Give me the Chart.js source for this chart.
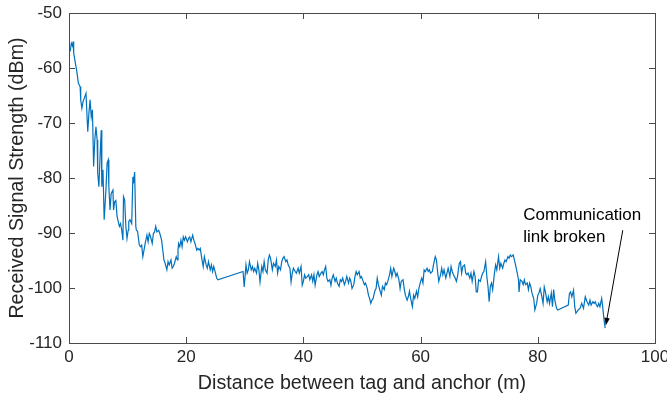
<!DOCTYPE html>
<html>
<head>
<meta charset="utf-8">
<script src="https://cdn.jsdelivr.net/npm/chart.js@4/dist/chart.umd.min.js"></script>
<style>
  html, body { margin: 0; padding: 0; background: #ffffff; }
  canvas { display: block; }
</style>
</head>
<body>
<canvas id="grafico" width="667" height="399"></canvas>
<script>
// distance (m) and received signal strength (dBm)
const distanze = [
  0.2, 0.4, 0.6, 0.7, 0.8, 0.9, 1.1, 1.3, 1.6, 1.9, 2.0, 2.2, 2.4, 2.7, 2.9, 3.0, 3.2, 3.4, 3.6, 3.8,
  4.0, 4.2, 4.4, 4.6, 4.8, 4.9, 5.1, 5.3, 5.5, 5.6, 5.8, 6.0, 6.3, 6.5, 6.7, 6.8, 7.0, 7.2, 7.5, 7.6,
  7.8, 8.0, 8.2, 8.4, 8.6, 8.8, 9.0, 9.2, 9.3, 9.5, 9.7, 9.9, 10.1, 10.2, 10.4, 10.7, 10.9, 11.0, 11.2, 11.4,
  11.5, 11.7, 12.0, 12.2, 12.4,
  12.6, 12.8, 13.0, 13.3, 13.5, 13.7, 13.9, 14.2, 14.4, 14.6, 14.8, 15.0, 15.3, 15.5, 15.8, 16.0, 16.2, 16.4, 16.7, 16.9,
  17.1, 17.4, 17.6, 17.8, 18.0, 18.3, 18.5, 18.6, 18.7, 18.9, 19.1, 19.3, 19.5, 19.7, 19.9, 20.2, 20.4, 20.6, 20.8, 21.1,
  21.3, 21.5, 21.8, 22.0, 22.2, 22.4, 22.7, 22.9, 23.1, 23.4, 23.6, 23.8, 24.1, 24.3, 24.5, 24.7, 25.0, 25.2, 25.4,
  29.7, 29.9, 30.2, 30.4, 30.6, 30.8, 31.1, 31.3, 31.5, 31.7, 32.0, 32.2, 32.4, 32.6, 32.9, 33.1, 33.3, 33.5, 33.8, 34.0,
  34.2, 34.4, 34.7, 34.9, 35.2, 35.4, 35.6, 35.8, 36.1, 36.3, 36.5, 36.7, 37.0, 37.2, 37.4, 37.7, 37.9, 38.1, 38.3,
  38.6, 38.8, 39.1, 39.3, 39.6, 39.8, 40.0, 40.2, 40.4, 40.7, 40.9, 41.1, 41.4, 41.6, 41.8, 42.0, 42.3, 42.5, 42.7, 43.0,
  43.2, 43.4, 43.6, 43.8, 44.0, 44.2, 44.5, 44.7, 44.9, 45.1, 45.4, 45.6, 45.8, 46.1, 46.3, 46.5, 46.7, 47.0, 47.2, 47.4,
  47.7, 47.9, 48.1, 48.3, 48.6, 48.8, 49.0, 49.2, 49.5, 49.7, 49.9, 50.2, 50.4, 50.6, 50.9, 51.1, 51.3, 51.5, 51.7, 51.9,
  52.2, 52.4, 52.6, 52.8, 53.1, 53.3, 53.5, 53.8, 54.0, 54.2, 54.4, 54.7, 54.9, 55.1, 55.4, 55.6, 55.8, 56.0, 56.3, 56.5,
  56.7, 57.0, 57.2, 57.4, 57.7, 57.9, 58.1, 58.3, 58.6, 58.8, 59.0, 59.3, 59.5, 59.7, 60.0, 60.2, 60.4, 60.6, 60.8, 61.1,
  61.3, 61.5, 61.7, 62.0, 62.2, 62.5, 62.7, 62.9, 63.1, 63.4, 63.6, 63.8, 64.0, 64.3, 64.5, 64.7, 65.0, 65.2, 65.4, 65.6,
  65.9, 66.1, 66.3, 66.6, 66.8, 67.0, 67.2, 67.5, 67.7, 67.9, 68.1, 68.4, 68.6, 68.8, 69.1, 69.3, 69.5, 69.7, 69.9, 70.2,
  70.4, 70.6, 70.8, 71.1, 71.3, 71.5, 71.7, 71.9, 72.1, 72.3, 72.6, 72.8, 73.0, 73.3, 73.5, 73.7, 74.0, 74.2, 74.4, 74.6,
  74.9, 75.1, 75.3, 75.5, 75.8, 76.0, 76.2, 76.5, 76.7, 76.8, 77.0, 77.3, 77.5, 77.7, 77.9, 78.2, 78.4, 78.6, 78.8, 79.0,
  79.3,
  79.5, 79.8, 80.0, 80.2, 80.4, 80.7, 80.9, 81.1, 81.3, 81.6, 81.8, 82.0, 82.3, 82.5, 82.7, 82.9, 83.2, 83.4,
  85.2, 85.4, 85.6, 85.8, 86.1, 86.3, 86.5, 86.9, 87.2, 87.5, 87.8, 88.1, 88.4, 88.7, 88.9, 89.1, 89.4, 89.6, 89.8, 90.0,
  90.2, 90.4, 90.6, 90.9, 91.1, 91.3, 91.5
];

const rssi = [
  -57.0, -55.5, -56.0, -55.2, -57.3, -57.9, -59.2, -60.4, -62.8, -63.4, -65.8, -67.3, -66.1, -65.2, -64.6, -67.0, -71.6, -68.2, -65.8, -68.9,
  -67.6, -77.9, -73.1, -70.7, -73.1, -79.1, -81.6, -76.1, -71.3, -81.6, -78.5, -87.6, -82.2, -77.3, -76.7, -81.6, -85.8, -82.8, -82.2, -85.8,
  -84.3, -84.1, -87.0, -87.9, -88.8, -88.3, -89.5, -91.3, -83.4, -84.0, -88.8, -91.0, -89.5, -87.9, -87.6, -88.3, -79.8, -81.0, -78.9, -88.8,
  -89.5, -89.7, -92.2, -92.5, -92.2,
  -94.3, -93.1, -91.9, -90.4, -91.6, -90.1, -90.6, -91.9, -90.1, -89.8, -88.8, -89.8, -89.5, -90.1, -91.3, -93.1, -94.9, -95.5, -96.7, -95.2,
  -95.8, -94.9, -96.4, -96.1, -95.5, -94.3, -94.9, -93.1, -91.9, -92.5, -91.3, -92.5, -90.7, -91.3, -90.7, -91.6, -91.0, -90.7, -91.6, -90.4,
  -91.3, -91.9, -93.1, -92.8, -93.1, -92.8, -94.9, -96.1, -94.3, -95.8, -96.4, -95.2, -96.7, -95.8, -97.0, -96.1, -97.3, -98.2, -98.5,
  -97.0, -99.8, -95.8, -97.3, -96.7, -95.2, -96.7, -96.1, -97.0, -96.4, -97.3, -95.5, -96.7, -98.9, -96.1, -97.0, -95.2, -96.7, -97.3, -94.9,
  -94.0, -94.6, -96.7, -95.5, -96.1, -94.9, -97.3, -96.1, -96.7, -95.2, -94.6, -94.3, -95.2, -94.9, -95.8, -96.4, -98.9, -97.3, -96.4,
  -97.0, -97.3, -96.4, -97.3, -96.1, -99.5, -98.8, -97.6, -98.2, -97.9, -97.6, -98.5, -97.6, -98.8, -97.6, -99.5, -97.6, -97.0, -97.9, -97.3,
  -97.0, -97.6, -96.7, -96.1, -98.2, -98.8, -98.5, -99.5, -98.2, -97.6, -98.8, -98.2, -99.1, -99.7, -98.5, -98.8, -98.2, -99.4, -98.8, -97.9,
  -99.1, -98.2, -98.8, -100.1, -99.4, -97.9, -97.0, -97.6, -97.0, -98.2, -97.9, -98.8, -99.4, -99.1, -100.1, -101.3, -101.9, -102.8, -102.2, -101.9,
  -100.5, -100.1, -98.2, -99.4, -100.6, -101.3, -99.7, -100.3, -99.1, -99.4, -98.8, -97.6, -96.4, -97.9, -96.4, -97.0, -97.9, -97.3, -98.5, -100.1,
  -98.8, -98.5, -100.1, -101.3, -102.2, -101.6, -100.6, -101.9, -103.4, -101.3, -101.9, -100.6, -101.6, -100.1, -98.8, -98.2, -99.1, -96.7, -97.0, -96.4,
  -97.0, -96.7, -97.3, -97.0, -95.8, -94.3, -94.9, -97.0, -98.8, -97.6, -96.4, -97.6, -96.7, -98.2, -97.3, -96.4, -97.9, -96.1, -97.0, -97.6,
  -98.2, -98.8, -97.9, -95.5, -95.2, -97.3, -96.1, -95.8, -97.3, -97.6, -97.3, -98.2, -97.3, -98.8, -97.0, -97.9, -100.7, -100.7, -98.5, -98.8,
  -97.9, -97.3, -97.0, -95.2, -97.9, -99.7, -102.5, -99.7, -99.1, -100.3, -97.3, -95.8, -96.7, -94.3, -96.4, -95.5, -96.4, -95.5, -94.9, -95.2,
  -94.3, -94.6, -94.0, -94.3, -94.0, -94.9, -95.8, -97.3, -98.5, -100.7, -98.5, -98.8, -99.4, -98.5, -99.4, -99.1, -100.3, -99.1, -99.7, -100.9,
  -101.9,
  -104.0, -102.8, -101.3, -100.9, -100.1, -101.6, -102.8, -99.8, -100.7, -102.5, -101.6, -102.8, -100.9, -103.4, -100.3, -102.2, -103.7, -104.0,
  -103.1, -101.0, -100.7, -101.6, -100.4, -103.4, -104.6, -104.0, -103.7, -102.8, -103.7, -101.6, -102.5, -103.1, -102.2, -103.1, -102.5, -102.8, -102.5, -103.1,
  -103.4, -102.8, -103.4, -101.9, -103.7, -105.8, -107.3
];

const tickX = [0, 20, 40, 60, 80, 100];
const tickY = [-110, -100, -90, -80, -70, -60, -50];

// annotation, in data units
const notaTesto = ['Communication', 'link broken'];
const notaPos = { x: 77.5, y: -87.6, passo: -3.95 };
const frecciaDa = { x: 94.5, y: -89.5 };
const frecciaA = { x: 91.6, y: -106.8 };

const coloreAssi = '#262626';
const coloreBordo = '#4a4a4a';
const font = '"Liberation Sans", Arial, sans-serif';

const puntiDati = distanze.map((d, i) => ({ x: d, y: rssi[i] }));

// box round the plot and inward ticks on all four sides (MATLAB look)
const boxTicks = {
  id: 'boxTicks',
  afterDatasetsDraw(chart) {
    const ctx = chart.ctx;
    const area = chart.chartArea;
    const sx = chart.scales.x;
    const sy = chart.scales.y;
    const lung = 6;
    ctx.save();
    ctx.strokeStyle = coloreBordo;
    ctx.lineWidth = 1;
    ctx.beginPath();
    tickX.forEach(v => {
      const px = Math.round(sx.getPixelForValue(v)) + 0.5;
      ctx.moveTo(px, area.bottom);
      ctx.lineTo(px, area.bottom - lung);
      ctx.moveTo(px, area.top);
      ctx.lineTo(px, area.top + lung);
    });
    tickY.forEach(v => {
      const py = Math.round(sy.getPixelForValue(v)) + 0.5;
      ctx.moveTo(area.left, py);
      ctx.lineTo(area.left + lung, py);
      ctx.moveTo(area.right, py);
      ctx.lineTo(area.right - lung, py);
    });
    ctx.stroke();
    ctx.strokeRect(Math.round(area.left) + 0.5, Math.round(area.top) + 0.5,
      Math.round(area.right - area.left), Math.round(area.bottom - area.top));
    ctx.restore();
  }
};

const nota = {
  id: 'nota',
  afterDraw(chart) {
    const ctx = chart.ctx;
    const sx = chart.scales.x;
    const sy = chart.scales.y;
    ctx.save();
    ctx.fillStyle = '#000000';
    ctx.font = '17px ' + font;
    ctx.textBaseline = 'alphabetic';
    ctx.textAlign = 'left';
    notaTesto.forEach((riga, i) => {
      ctx.fillText(riga, sx.getPixelForValue(notaPos.x), sy.getPixelForValue(notaPos.y + i * notaPos.passo));
    });

    const x1 = sx.getPixelForValue(frecciaDa.x);
    const y1 = sy.getPixelForValue(frecciaDa.y);
    const x2 = sx.getPixelForValue(frecciaA.x);
    const y2 = sy.getPixelForValue(frecciaA.y);
    const ang = Math.atan2(y2 - y1, x2 - x1);
    const testa = 8;
    ctx.strokeStyle = '#000000';
    ctx.lineWidth = 1;
    ctx.beginPath();
    ctx.moveTo(x1, y1);
    ctx.lineTo(x2 - Math.cos(ang) * testa * 0.8, y2 - Math.sin(ang) * testa * 0.8);
    ctx.stroke();
    ctx.beginPath();
    ctx.moveTo(x2, y2);
    ctx.lineTo(x2 - testa * Math.cos(ang - 0.35), y2 - testa * Math.sin(ang - 0.35));
    ctx.lineTo(x2 - testa * Math.cos(ang + 0.35), y2 - testa * Math.sin(ang + 0.35));
    ctx.closePath();
    ctx.fill();
    ctx.restore();
  }
};

const ctx = document.getElementById('grafico').getContext('2d');

new Chart(ctx, {
  type: 'line',
  data: {
    datasets: [{
      label: 'RSSI',
      data: puntiDati,
      borderColor: '#0072BD',
      borderWidth: 1.2,
      pointRadius: 0,
      tension: 0,
      fill: false
    }]
  },
  options: {
    responsive: false,
    animation: false,
    events: [],
    layout: {
      padding: { left: 0, top: 13, right: 12, bottom: 0 }
    },
    plugins: {
      legend: { display: false },
      tooltip: { enabled: false }
    },
    scales: {
      x: {
        type: 'linear',
        min: 0,
        max: 100,
        afterBuildTicks: s => { s.ticks = tickX.map(v => ({ value: v })); },
        afterFit: s => { s.height = 56; s.paddingLeft = 0; s.paddingRight = 0; },
        grid: { display: false, drawTicks: false, tickLength: 0 },
        border: { display: false },
        ticks: {
          color: coloreAssi,
          padding: 4,
          maxRotation: 0,
          font: { family: font, size: 17 }
        },
        title: {
          display: true,
          text: 'Distance between tag and anchor (m)',
          color: coloreAssi,
          padding: { top: 0, bottom: 4 },
          font: { family: font, size: 19.7 }
        }
      },
      y: {
        min: -110,
        max: -50,
        afterBuildTicks: s => { s.ticks = tickY.map(v => ({ value: v })); },
        afterFit: s => { s.width = 69; s.paddingTop = 0; s.paddingBottom = 0; },
        grid: { display: false, drawTicks: false, tickLength: 0 },
        border: { display: false },
        ticks: {
          color: coloreAssi,
          padding: 7,
          font: { family: font, size: 17 }
        },
        title: {
          display: true,
          text: 'Received Signal Strength (dBm)',
          color: coloreAssi,
          padding: { top: 6, bottom: 0 },
          font: { family: font, size: 19.7 }
        }
      }
    }
  },
  plugins: [boxTicks, nota]
});
</script>
</body>
</html>
